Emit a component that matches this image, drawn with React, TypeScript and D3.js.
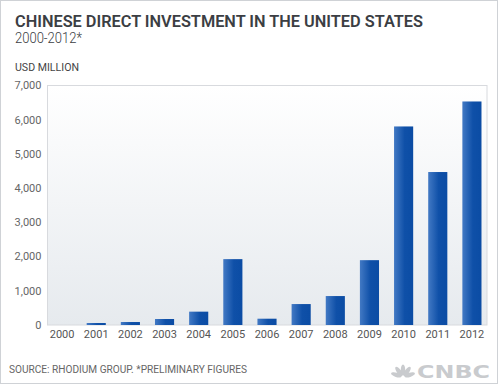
import React from "react";
import * as d3 from "d3";

const years = ["2000","2001","2002","2003","2004","2005","2006","2007","2008","2009","2010","2011","2012"];
const values = [0, 58, 87, 175, 390, 1925, 184, 612, 846, 1895, 5803, 4471, 6533];
const yTicks = [0, 1000, 2000, 3000, 4000, 5000, 6000, 7000];

const W = 500, H = 385;
const plot = { left: 47, right: 487, top: 85.5, bottom: 325 };

export default function App() {
  const x = d3.scaleBand<string>().domain(years).range([45, 489]).paddingInner(0.44).paddingOuter(0.22);
  const y = d3.scaleLinear().domain([0, 7000]).range([plot.bottom, plot.top]);
  const fmt = d3.format(",");
  const font = "Roboto, 'DejaVu Sans', sans-serif";
  return (
    <svg width={W} height={H} style={{ position: "absolute", left: 0, top: 0, display: "block" }} fontFamily={font}>
      <defs>
        <linearGradient id="bg" x1="0" y1="0" x2="0" y2="1">
          <stop offset="0" stopColor="#ffffff" />
          <stop offset="1" stopColor="#e6eaee" />
        </linearGradient>
        <linearGradient id="bar" x1="0" y1="0" x2="1" y2="0">
          <stop offset="0" stopColor="#4279c4" />
          <stop offset="0.55" stopColor="#0f50a8" />
          <stop offset="1" stopColor="#0b4ca4" />
        </linearGradient>
      </defs>
      <rect x={0} y={0} width={W} height={H} fill="#ffffff" />
      <rect x={0.5} y={0.5} width={497} height={383} fill="none" stroke="#cfd2d6" />
      <text x={15} y={27} fontSize={16.5} fontWeight={600} fill="#3b3e43" textLength={408} lengthAdjust="spacingAndGlyphs">CHINESE DIRECT INVESTMENT IN THE UNITED STATES</text>
      <text x={15} y={42.7} fontSize={14} fontWeight={300} fill="#3b3e43" textLength={67} lengthAdjust="spacingAndGlyphs">2000-2012*</text>
      <text x={15} y={71} fontSize={10.5} fill="#444" textLength={64} lengthAdjust="spacingAndGlyphs">USD MILLION</text>
      <rect x={plot.left + 0.5} y={plot.top} width={plot.right - plot.left - 0.5} height={plot.bottom - plot.top} fill="url(#bg)" stroke="#d8dade" />
      {yTicks.map((t) => (
        <text key={t} x={41.5} y={y(t) + 3.8} fontSize={11} fill="#666" textAnchor="end">{fmt(t)}</text>
      ))}
      {years.map((yr, i) => (
        <g key={yr}>
          {values[i] > 0 && (
            <rect x={x(yr)!} y={y(values[i])} width={x.bandwidth()} height={plot.bottom - y(values[i])} fill="url(#bar)" />
          )}
          <text x={x(yr)! + x.bandwidth() / 2} y={338} fontSize={11} fill="#555" textAnchor="middle">{yr}</text>
        </g>
      ))}
      <text x={9} y={373} fontSize={10.5} fill="#666" textLength={238} lengthAdjust="spacingAndGlyphs">SOURCE: RHODIUM GROUP. *PRELIMINARY FIGURES</text>
      <g fill="#c9cbce">
        {[-60, -30, 0, 30, 60].map((a, k) => (
          <ellipse key={k} cx={0} cy={-6} rx={2.2} ry={5.5} transform={`translate(403,377) rotate(${a * 1.2}) translate(0,-1)`} />
        ))}
      </g>
      <text x={417} y={378} fontSize={17} fontWeight={900} fill="#c9cbce" textLength={73} lengthAdjust="spacingAndGlyphs" fontFamily="'DejaVu Sans', sans-serif">CNBC</text>
    </svg>
  );
}
